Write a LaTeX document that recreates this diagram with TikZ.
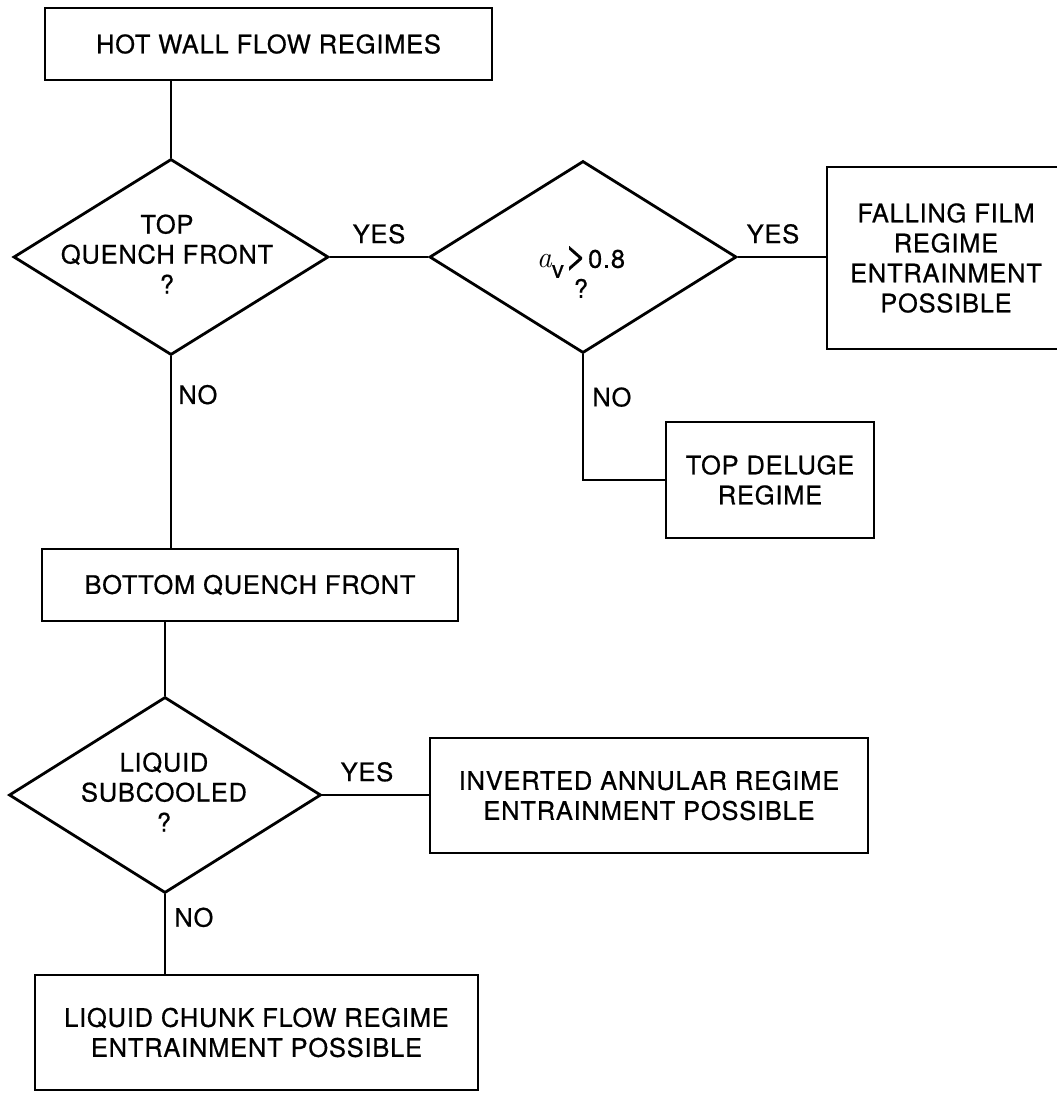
\documentclass[tikz,border=0pt]{standalone}
\usepackage{fontspec}
\setmainfont{TeX Gyre Heros}[LetterSpace=3, FakeBold=0.6]
\usetikzlibrary{shapes.geometric}
\begin{document}
\begin{tikzpicture}[x=1pt,y=-1pt,
  every node/.style={font=\fontsize{25.5}{30}\selectfont},
  ln/.style={line width=2.8pt},
  regbox/.style={draw, line width=2.8pt, align=center, inner sep=0pt},
  decision/.style={draw, diamond, line width=2.8pt, inner sep=0pt},
  txt/.style={align=center, inner sep=0pt},
  lab/.style={inner sep=0pt}]
\useasboundingbox (0,0) rectangle (1057,1093);
\clip (0,0) rectangle (1057,1093);
% boxes
\node[regbox, minimum width=447pt, minimum height=72pt] (A) at (268.5,44) {HOT WALL FLOW REGIMES};
\node[regbox, minimum width=238pt, minimum height=182pt] (F) at (946,258) {FALLING FILM\\REGIME\\ENTRAINMENT\\POSSIBLE};
\node[regbox, minimum width=208pt, minimum height=116pt] (TD) at (770,480) {TOP DELUGE\\REGIME};
\node[regbox, minimum width=416pt, minimum height=72pt] (BQ) at (250,585) {BOTTOM QUENCH FRONT};
\node[regbox, minimum width=438pt, minimum height=115pt] (IA) at (649,795.5) {INVERTED ANNULAR REGIME\\ENTRAINMENT POSSIBLE};
\node[regbox, minimum width=443pt, minimum height=115pt] (LC) at (256.5,1032.5) {LIQUID CHUNK FLOW REGIME\\ENTRAINMENT POSSIBLE};
% decisions
\node[decision, minimum width=315pt, minimum height=196pt] (D1) at (171,257) {};
\node[txt] (D1t) at (167,254) {TOP\\QUENCH FRONT\\?};
\node[decision, minimum width=307pt, minimum height=192pt] (D2) at (583,257) {};
\node[txt] (D2t) at (581,272) {{\fontfamily{lmr}\fontseries{m}\itshape\fontsize{30}{30}\selectfont a}\raisebox{-10pt}{\fontsize{24}{24}\selectfont v}\kern1pt{\fontsize{38}{38}\selectfont >}\kern1pt0.8\\?};
\node[decision, minimum width=312pt, minimum height=196pt] (D3) at (165,795) {};
\node[txt] (D3t) at (164,792) {LIQUID\\SUBCOOLED\\?};
% connectors
\draw[ln] (A.south -| D1.north) -- (D1.north);
\draw[ln] (D1.east) -- node[lab, pos=0.5, above=12pt] (y1) {YES} (D2.west);
\draw[ln] (D2.east) -- node[lab, pos=0.4, above=12pt] (y2) {YES} (D2.east -| F.west);
\draw[ln] (D2.south) |- node[lab, pos=0.17, anchor=west, xshift=8pt] (n2) {NO} (TD.west);
\draw[ln] (D1.south) -- node[lab, pos=0.2, anchor=west, xshift=6pt] (n1) {NO} (D1.south |- BQ.north);
\draw[ln] (D3.north |- BQ.south) -- (D3.north);
\draw[ln] (D3.east) -- node[lab, pos=0.42, above=12pt] (y3) {YES} (D3.east -| IA.west);
\draw[ln] (D3.south) -- node[lab, pos=0.29, anchor=west, xshift=8pt] (n3) {NO} (D3.south |- LC.north);
\end{tikzpicture}
\end{document}
